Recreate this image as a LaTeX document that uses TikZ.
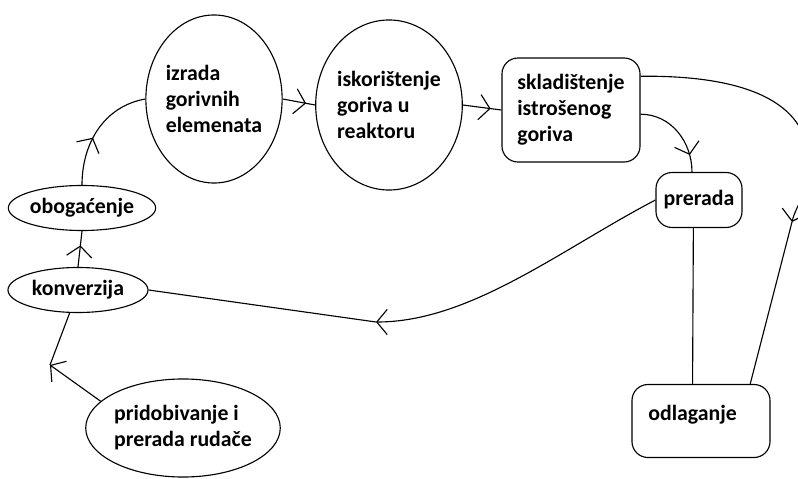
\documentclass[tikz,border=0pt]{standalone}
\usepackage{fontspec}
\setmainfont{Carlito}
\usetikzlibrary{shapes.geometric,arrows.meta,decorations.markings}
\tikzset{
  >={Straight Barb[length=7.5pt,width=18pt]},
  lbl/.style={font=\bfseries\fontsize{15.5}{18.5}\selectfont, align=left},
  stage/.style={draw, ellipse, inner sep=0pt, lbl},
  stagebox/.style={draw, rounded corners=0.4cm, inner sep=0pt, lbl},
  flow/.style={postaction={decorate}, decoration={markings, mark=at position #1 with {\arrow{>}}}}
}
\begin{document}
\begin{tikzpicture}[x=0.025cm, y=-0.025cm, line width=0.8pt]
  \useasboundingbox (0,0) rectangle (798,479);
  \clip (0,0) rectangle (798,479);
  \node[stage, minimum width=2.95cm, minimum height=4.2cm] (izrada) at (214,99) {izrada\\gorivnih\\elemenata};
  \node[stage, minimum width=3.2cm, minimum height=4.25cm] (iskor) at (389,105) {iskorištenje\\goriva u\\reaktoru};
  \node[stagebox, minimum width=3.45cm, minimum height=2.6cm] (sklad) at (571,110) {skladištenje\\istrošenog\\goriva};
  \node[stagebox, minimum width=3.45cm, minimum height=1.825cm, text depth=12pt] (odlag) at (701,421) {odlaganje\hspace*{12pt}};
  \node[stagebox, minimum width=2.15cm, minimum height=1.375cm] (prerada) at (699,200) {prerada};
  \node[stage, minimum width=3.6cm, minimum height=1.125cm] (oboga) at (82,208) {obogaćenje};
  \node[stage, minimum width=3.5cm, minimum height=1.125cm] (konv) at (78,290) {konverzija};
  \node[stage, minimum width=4.85cm, minimum height=2.45cm] (prid) at (183,428) {pridobivanje i\\prerada rudače};
  \coordinate (bendK) at (50,365);
  \coordinate (bendP) at (376,322);
  \coordinate (bendR) at (792,222);
  \draw[flow=0.42] (oboga.north) to[out=90, in=190] (izrada.west);
  \draw[flow=0.72] (izrada.east) -- (iskor.west);
  \draw[flow=0.72] (iskor.east) -- (sklad.west);
  \draw[flow=0.8] ([yshift=-3pt]sklad.east) to[out=0, in=90] ([xshift=-5pt]prerada.north);
  \draw[->] ([yshift=24pt]sklad.east) .. controls (760,75) and (808,110) .. (808,160) .. controls (808,195) and (796,205) .. (bendR);
  \draw (bendR) -- ([xshift=35pt]odlag.north);
  \draw[->] (prerada.west) .. controls (560,250) and (470,322) .. (bendP);
  \draw (bendP) -- (konv.east);
  \draw ([xshift=-4pt]prerada.south) -- ([xshift=-6pt]odlag.north);
  \draw[flow=0.6] (konv.north) -- (oboga.south);
  \draw[->] (prid.162) -- (bendK);
  \draw (bendK) -- (konv.250);
\end{tikzpicture}
\end{document}
